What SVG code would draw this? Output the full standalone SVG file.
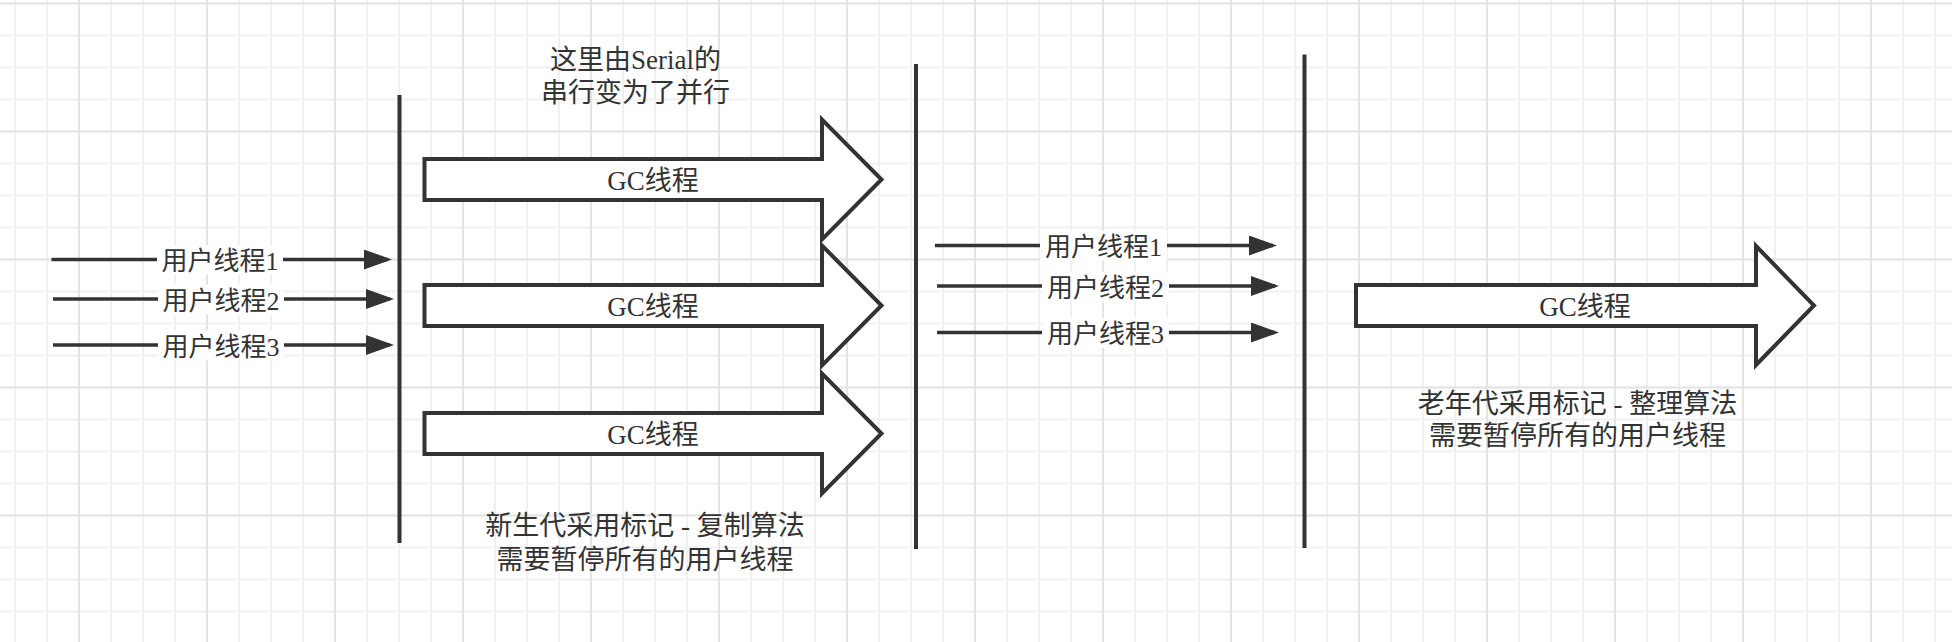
<svg xmlns="http://www.w3.org/2000/svg" width="1952" height="642" viewBox="0 0 1952 642">
<style>
.bar{stroke:#333;stroke-width:4;fill:none}
.big{fill:#fff;stroke:#333;stroke-width:4;stroke-linejoin:miter}
.conn{stroke:#333;stroke-width:3.5;fill:none}
.t{font-family:"Liberation Serif","Noto Sans CJK SC",serif;font-size:27px;fill:#333;text-anchor:middle}
.lbl{font-family:"Liberation Serif","Noto Sans CJK SC",serif;font-size:26px;fill:#333;text-anchor:middle}
.lblbg{fill:#fff}
</style>
<defs>
<pattern id="minor" patternUnits="userSpaceOnUse" x="-1" y="-12.5" width="32" height="32">
<path d="M16 0V32M0 16H32" stroke="#f0f0f0" stroke-width="2" fill="none"/>
</pattern>
<pattern id="major" patternUnits="userSpaceOnUse" x="15" y="-60.5" width="128" height="128">
<path d="M64 0V128M0 64H128" stroke="#e4e4e4" stroke-width="2" fill="none"/>
</pattern>
<marker id="ah" markerUnits="userSpaceOnUse" markerWidth="30" markerHeight="22" refX="24" refY="10" orient="auto">
<path d="M0 0L28 10L0 20Z" fill="#333"/>
</marker>
</defs>
<rect width="1952" height="642" fill="#fff"/>
<rect width="1952" height="642" fill="url(#minor)"/>
<rect width="1952" height="642" fill="url(#major)"/>

<g id="bar1"><line class="bar" x1="399.5" y1="95" x2="399.5" y2="543"/></g>
<g id="bar2"><line class="bar" x1="916" y1="64" x2="916" y2="549"/></g>
<g id="bar3"><line class="bar" x1="1304.5" y1="54.5" x2="1304.5" y2="548"/></g>

<g id="note-top">
<text class="t" x="635.5" y="68.5">这里由Serial的</text>
<text class="t" x="635.5" y="101.5">串行变为了并行</text>
</g>

<g id="gc1">
<path class="big" d="M424.5 159H822V119.5L881.5 179.5L822 239.5V200H424.5Z"/>
<text class="t" x="653" y="189.5">GC线程</text>
</g>
<g id="gc2">
<path class="big" d="M424.5 285H822V245.5L881.5 305.5L822 365.5V326H424.5Z"/>
<text class="t" x="653" y="315.5">GC线程</text>
</g>
<g id="gc3">
<path class="big" d="M424.5 413H822V373.5L881.5 433.5L822 493.5V454H424.5Z"/>
<text class="t" x="653" y="443.5">GC线程</text>
</g>

<g id="note-young">
<text class="t" x="645" y="534.5">新生代采用标记 - 复制算法</text>
<text class="t" x="645" y="568.5">需要暂停所有的用户线程</text>
</g>

<g id="gc-old">
<path class="big" d="M1356 285H1756V246L1814 305.5L1756 365V326H1356Z"/>
<text class="t" x="1585" y="315.5">GC线程</text>
</g>

<g id="note-old">
<text class="t" x="1577.5" y="412.5">老年代采用标记 - 整理算法</text>
<text class="t" x="1577.5" y="444.5">需要暂停所有的用户线程</text>
</g>

<g id="connectors">
<g id="u1a"><line class="conn" x1="51.5" y1="259.5" x2="388" y2="259.5" marker-end="url(#ah)"/>
<rect class="lblbg" x="157" y="245" width="126" height="30"/>
<text class="lbl" x="220" y="270">用户线程1</text></g>
<g id="u2a"><line class="conn" x1="53" y1="299" x2="390" y2="299" marker-end="url(#ah)"/>
<rect class="lblbg" x="158" y="284.5" width="126" height="30"/>
<text class="lbl" x="221" y="309.5">用户线程2</text></g>
<g id="u3a"><line class="conn" x1="53" y1="345" x2="390" y2="345" marker-end="url(#ah)"/>
<rect class="lblbg" x="158" y="330.5" width="126" height="30"/>
<text class="lbl" x="221" y="355.5">用户线程3</text></g>

<g id="u1b"><line class="conn" x1="935" y1="245.5" x2="1273" y2="245.5" marker-end="url(#ah)"/>
<rect class="lblbg" x="1040" y="231" width="127" height="30"/>
<text class="lbl" x="1103.5" y="256">用户线程1</text></g>
<g id="u2b"><line class="conn" x1="937" y1="286" x2="1275" y2="286" marker-end="url(#ah)"/>
<rect class="lblbg" x="1042" y="271.5" width="127" height="30"/>
<text class="lbl" x="1105.5" y="296.5">用户线程2</text></g>
<g id="u3b"><line class="conn" x1="937" y1="332.5" x2="1275" y2="332.5" marker-end="url(#ah)"/>
<rect class="lblbg" x="1042" y="318" width="127" height="30"/>
<text class="lbl" x="1105.5" y="343">用户线程3</text></g>
</g>
</svg>
